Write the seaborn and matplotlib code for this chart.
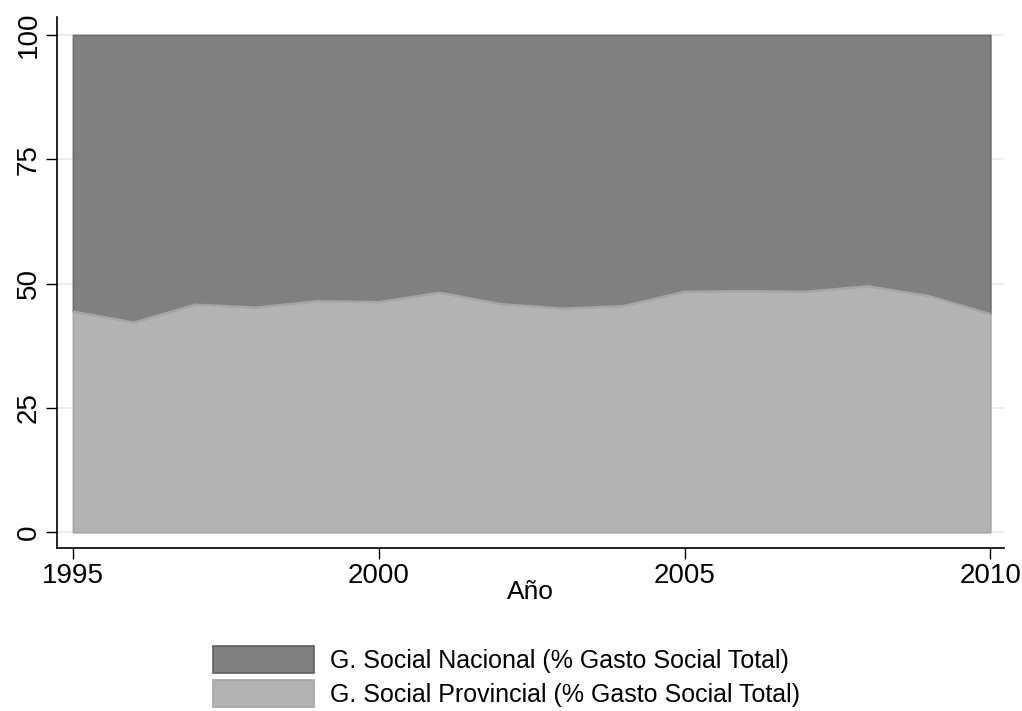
import matplotlib
matplotlib.use("Agg")
import matplotlib.pyplot as plt
from matplotlib.patches import Patch
import pandas as pd
import seaborn as sns

# ── Datos ──
anios = list(range(1995, 2011))
provincial = [44.4, 42.2, 45.8, 45.2, 46.5, 46.3, 48.2, 45.9, 45.0, 45.5,
              48.4, 48.5, 48.4, 49.5, 47.5, 43.9]
total = [100.0] * len(anios)
etiquetas = ["G. Social Nacional (% Gasto Social Total)",
             "G. Social Provincial (% Gasto Social Total)"]
ticks_y = [0, 25, 50, 75, 100]
ticks_x = [1995, 2000, 2005, 2010]

df = pd.DataFrame({"anio": anios, "provincial": provincial, "total": total})

sns.set_style("white")
plt.rcParams['font.family'] = ['Liberation Sans', 'DejaVu Sans']
plt.rcParams['text.color'] = 'black'
plt.rcParams['axes.labelcolor'] = 'black'

color_nac = '#808080'
color_prov = '#b3b3b3'

fig = plt.figure(figsize=(10.22, 7.11), dpi=100)
ax = fig.add_axes([0.0558, 0.229, 0.927, 0.747])

# grid (Stata style)
for t in ticks_y:
    ax.axhline(t, color='#eaeaea', lw=1.2, zorder=0)

ax.fill_between(df['anio'], df['provincial'], df['total'], color=color_nac,
                edgecolor='#6a6a6a', lw=1.2, zorder=2)
ax.fill_between(df['anio'], 0, df['provincial'], color=color_prov,
                edgecolor='#a5a5a5', lw=1.2, zorder=3)
sns.lineplot(data=df, x='anio', y='provincial', color='#a5a5a5', lw=1.5, ax=ax, zorder=4)

ax.set_xlim(1994.74, 2010.23)
ax.set_ylim(-3.2, 103.6)
ax.set_xticks(ticks_x)
ax.set_yticks(ticks_y)
ax.set_yticklabels([str(t) for t in ticks_y], rotation=90, va='center')
ax.tick_params(axis='both', direction='out', length=8, width=1, colors='black',
               labelsize=20, pad=3)
ax.tick_params(axis='y', left=True)
ax.tick_params(axis='x', bottom=True)
ax.set_xlabel('Año', fontsize=19, labelpad=-7)
ax.set_ylabel('')
ax.spines[['top', 'right']].set_visible(False)
for s in ['left', 'bottom']:
    ax.spines[s].set_color('black')
    ax.spines[s].set_linewidth(1.2)

handles = [Patch(facecolor=color_nac, edgecolor='#5f5f5f', lw=1.2),
           Patch(facecolor=color_prov, edgecolor='#a5a5a5', lw=1.2)]
fig.legend(handles, etiquetas, loc='upper center', bbox_to_anchor=(0.4956, 0.091),
           frameon=False, fontsize=18, handlelength=4.04, handleheight=1.25,
           labelspacing=0.3, handletextpad=0.64, borderpad=0, borderaxespad=0)

fig.savefig('out.png', dpi=100, facecolor='white')
